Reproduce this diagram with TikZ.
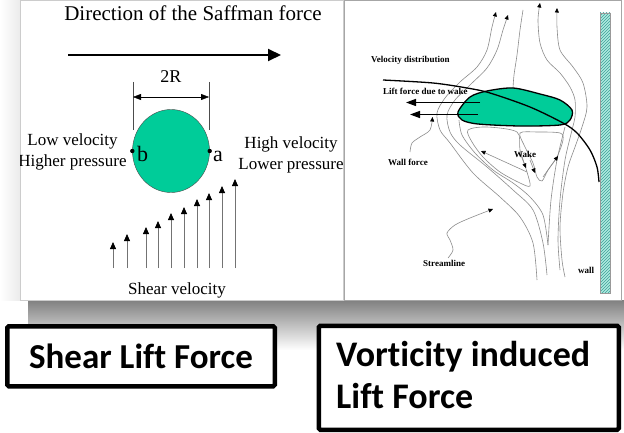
\documentclass[tikz,border=0pt]{standalone}
\usepackage{fontspec}
\setmainfont{Liberation Serif}
\newfontfamily\boxfont[Ligatures=NoCommon]{Carlito}
\usetikzlibrary{arrows.meta,patterns,shapes.geometric}

\begin{document}
\begin{tikzpicture}[x=1pt,y=-1pt,
        stream/.style={draw=black!45, line width=0.6pt},
        flowtip/.style={-{Triangle[length=4.5pt,width=4pt,color=black]}},
        label/.style={font=\fontsize{9}{10}\selectfont\bfseries, anchor=base west, inner sep=0pt},
        serif/.style={font=\fontsize{17}{21}\selectfont, align=center, inner sep=0pt},
        titlebox/.style={draw, line width=4.5pt, rounded corners=1.5pt, fill=white}]
        % Define colors
        \definecolor{spherecolor}{RGB}{0,204,153}
        \definecolor{wallcolor}{RGB}{175,235,225}
        \definecolor{hatchcolor}{RGB}{60,160,150}

        \useasboundingbox (0,0) rectangle (624,433);

        % Shadow and panels
        \shade[top color=black!50, bottom color=white] (28,300) rectangle (624,350);
        \shade[left color=white, right color=black!8] (0,0) rectangle (20,300);
        \draw[black!20, fill=white] (20,0) rectangle (343,300);
        \draw[black!35, fill=white] (344,0) rectangle (621,300);

        % Left panel: shear lift
        \begin{scope}
            \clip (20,0) rectangle (343,300);

            % Title and force arrow
            \node[anchor=base, inner sep=0pt, font=\fontsize{21}{25}\selectfont] (title) at (193,20.5) {Direction of the Saffman force};
            \coordinate (fstart) at (68,55);
            \coordinate (fend) at (281,55);
            \draw[line width=2pt, -{Triangle[length=13pt,width=12pt]}] (fstart) -- (fend);

            % Particle and diameter
            \node[ellipse, draw=black!70, fill=spherecolor, minimum width=77pt, minimum height=83pt, inner sep=0pt] (sphere) at (171,151) {};
            \coordinate (dimL) at (133,97);
            \coordinate (dimR) at (209,97);
            \draw[black!70] (dimL) ++(0,-15) -- ++(0,48);
            \draw[black!70] (dimR) ++(0,-15) -- ++(0,48);
            \draw[{Triangle[length=8pt,width=6pt]}-{Triangle[length=8pt,width=6pt]}] (dimL) -- (dimR);
            \node[anchor=base, inner sep=0pt, font=\fontsize{18}{20}\selectfont] (dia) at (171,83) {2R};

            % Points a and b
            \fill (sphere.west) circle (2.2pt);
            \fill (sphere.east) circle (2.2pt);
            \node[anchor=base west, inner sep=0pt, font=\fontsize{22}{24}\selectfont] (pb) at (137,161.5) {b};
            \node[anchor=base west, inner sep=0pt, font=\fontsize{22}{24}\selectfont] (pa) at (213,161.5) {a};

            \node[serif] (lowv) at (72.5,152) {Low velocity\\Higher pressure};
            \node[serif] (highv) at (291,155) {High velocity\\Lower pressure};

            % Shear velocity profile
            \foreach \x/\t [count=\i] in {113/242,127/234,146/227,158/221,171/213,184/207,197/199,209/193,222/186,235/179}
            {
                \coordinate (sb\i) at (\x,268);
                \coordinate (st\i) at (\x,\t);
                \draw[black!55, line width=0.8pt, -{Triangle[length=7pt,width=6pt,color=black]}] (sb\i) -- (st\i);
            }
            \node[anchor=base, inner sep=0pt, font=\fontsize{17}{20}\selectfont] (shear) at (177,294) {Shear velocity};
        \end{scope}

        % Right panel: vorticity induced lift
        % Wall
        \fill[wallcolor] (600,13) rectangle (610,293);
        \fill[pattern=north east lines, pattern color=hatchcolor] (600,13) rectangle (610,293);
        \draw[black!40] (600,13) rectangle (610,293);

        % Streamlines
        \draw[stream, flowtip, smooth] plot coordinates {(537,280) (533,243) (520,217) (500,197) (473,173) (450,143) (440,130) (437,113) (445,98) (460,82) (477,67) (487,50) (492,27) (496,12)};
        \draw[stream, flowtip, smooth] plot coordinates {(547,275) (543,243) (533,210) (513,190) (487,167) (460,145) (450,132) (447,115) (455,100) (470,85) (487,68) (497,50) (503,30) (508,15)};
        \draw[stream, flowtip, smooth] plot coordinates {(560,270) (558,240) (560,200) (565,160) (572,130) (575,117) (575,100) (570,87) (560,73) (547,60) (540,43) (538,20) (540,3)};
        \draw[stream, flowtip, smooth] plot coordinates {(565,277) (562,260) (560,227) (563,193) (568,167) (575,147) (582,127) (587,107) (583,83) (573,67) (560,50) (557,27) (557,8)};
        \draw[stream, smooth] plot coordinates {(513,88) (514,75) (517,55) (520,30) (523,10)};
        \draw[stream, smooth] plot coordinates {(459,120) (462,135) (475,153) (493,170) (513,183) (530,197) (543,215) (548,245)};
        \draw[stream, smooth] plot coordinates {(565,127) (557,160) (551,200) (548,245)};

        % Wake
        \draw[stream, smooth cycle] plot coordinates {(468,130) (487,127) (517,132) (520,150) (527,172) (530,186) (520,183) (500,172) (483,157) (472,142)};
        \draw[stream, smooth cycle] plot coordinates {(520,133) (537,132) (560,133) (563,140) (557,157) (548,170) (542,181) (537,177) (533,163) (525,147)};
        \coordinate (w1s) at (527,172);
        \coordinate (w1e) at (481,151);
        \coordinate (w2s) at (520,153);
        \coordinate (w2e) at (526,168);
        \coordinate (w3s) at (530,160);
        \coordinate (w3e) at (535,173);
        \coordinate (w4s) at (543,177);
        \coordinate (w4e) at (558,156);
        \foreach \s/\e in {w1s/w1e,w2s/w2e,w3s/w3e,w4s/w4e}
            \draw[stream, flowtip] (\s) -- (\e);

        % Particle
        \draw[line width=1.3pt, fill=spherecolor, smooth cycle] plot coordinates {(458,112) (470,97) (487,91) (513,88) (540,94) (560,100) (572,110) (570,120) (560,125) (520,126) (478,124) (462,120)};

        % Velocity distribution
        \draw[line width=1.3pt, smooth] plot coordinates {(383,80) (433,83) (467,88) (490,93) (530,107) (563,123) (577,133) (590,150) (597,167) (599,182)};

        % Lift force arrows
        \coordinate (lift1s) at (480,102.5);
        \coordinate (lift1e) at (406,102.5);
        \coordinate (lift2s) at (478,114.5);
        \coordinate (lift2e) at (410,114.5);
        \draw[line width=1.3pt, -{Triangle[length=10pt,width=7pt]}] (lift1s) -- (lift1e);
        \draw[line width=1.3pt, -{Triangle[length=10pt,width=7pt]}] (lift2s) -- (lift2e);

        % Pointers
        \draw[stream, flowtip, smooth] plot coordinates {(410,152) (412,143) (420,137) (430,130) (432.5,117)};
        \draw[stream, flowtip, smooth] plot coordinates {(448,258) (453,250) (450,240) (447,233) (455,225) (470,218) (493,209)};

        % Labels
        \node[label] (veldist) at (371,62.5) {Velocity distribution};
        \node[label] (liftwake) at (383,95) {Lift force due to wake};
        \node[label] (wallforce) at (388,166) {Wall force};
        \node[label] (wake) at (514,158) {Wake};
        \node[label] (streamline) at (423,266.5) {Streamline};
        \node[label] (wall) at (578,273) {wall};

        % Captions
        \node[titlebox, minimum width=267.5pt, minimum height=60pt, anchor=north west, inner sep=0pt,
            font=\boxfont\bfseries\fontsize{35}{40}\selectfont] (shearbox) at (5,324) {Shear Lift Force};
        \node[titlebox, minimum width=300pt, minimum height=104pt, anchor=north west] (vortbox) at (316.5,323.5) {};
        \node[anchor=north west, inner sep=0pt, align=left,
            font=\boxfont\bfseries\fontsize{36}{41.5}\selectfont] (vorttext) at (336,341.5) {Vorticity induced\\Lift Force};

\end{tikzpicture}
\end{document}
